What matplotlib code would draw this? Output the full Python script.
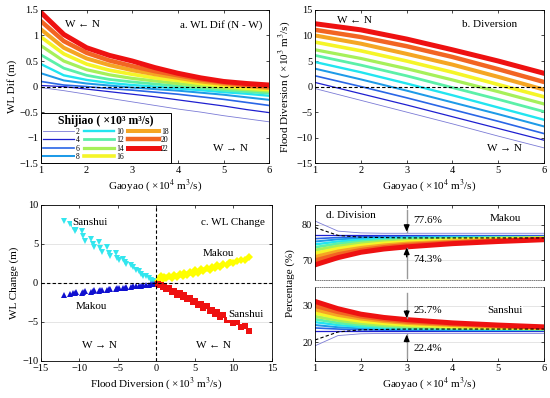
import numpy as np
import matplotlib
matplotlib.use('Agg')
import matplotlib.pyplot as plt
from matplotlib.ticker import FuncFormatter

plt.rcParams['font.family'] = ['Liberation Serif', 'DejaVu Serif']
plt.rcParams['mathtext.fontset'] = 'stix'
plt.rcParams['font.size'] = 7.5
plt.rcParams['axes.linewidth'] = 0.6

# --- data ---
shijiao = [2, 4, 6, 8, 10, 12, 14, 16, 18, 20, 22]
colors = ['#7B7BD6', '#1F1FD0', '#2A66E6', '#1E9BE8', '#22E5F0', '#5CF0A8',
          '#A6F05A', '#F5F528', '#F5A623', '#F26522', '#EE1111']
widths = [0.6, 0.9, 1.2, 1.45, 1.7, 2.0, 2.3, 2.6, 2.9, 3.2, 3.6]

# a. WL Dif (N - W), m
gx_a = [1, 1.5, 2, 2.5, 3, 3.5, 4, 4.5, 5, 5.5, 6]
wl_dif = [
    [-0.02, -0.08, -0.15, -0.23, -0.30, -0.37, -0.44, -0.50, -0.57, -0.63, -0.69],
    [0.02, 0.00, -0.05, -0.10, -0.15, -0.20, -0.26, -0.32, -0.38, -0.45, -0.51],
    [0.10, 0.03, 0.00, -0.04, -0.07, -0.11, -0.15, -0.20, -0.25, -0.31, -0.37],
    [0.26, 0.12, 0.06, 0.02, -0.02, -0.05, -0.08, -0.12, -0.16, -0.21, -0.26],
    [0.44, 0.22, 0.13, 0.07, 0.03, 0.00, -0.04, -0.07, -0.11, -0.14, -0.18],
    [0.62, 0.36, 0.22, 0.14, 0.09, 0.05, 0.01, -0.03, -0.07, -0.10, -0.13],
    [0.80, 0.50, 0.33, 0.23, 0.16, 0.11, 0.06, 0.01, -0.03, -0.06, -0.09],
    [0.97, 0.64, 0.44, 0.32, 0.24, 0.17, 0.12, 0.06, 0.01, -0.03, -0.06],
    [1.12, 0.76, 0.55, 0.42, 0.32, 0.24, 0.17, 0.10, 0.05, 0.01, -0.03],
    [1.28, 0.89, 0.66, 0.51, 0.40, 0.30, 0.22, 0.14, 0.08, 0.03, 0.00],
    [1.45, 1.02, 0.76, 0.61, 0.50, 0.37, 0.26, 0.17, 0.10, 0.06, 0.03],
]

# b. Diversion, x10^3 m3/s
gx_b = [1, 2, 3, 4, 5, 6]
diversion = [
    [-0.4, -2.7, -5.0, -7.3, -9.7, -12.0],
    [0.8, -1.4, -3.6, -5.9, -8.2, -10.5],
    [2.1, 0.0, -2.2, -4.5, -6.8, -9.2],
    [3.5, 1.4, -0.8, -3.1, -5.4, -7.8],
    [4.8, 2.8, 0.6, -1.7, -4.1, -6.5],
    [6.1, 4.2, 2.1, -0.2, -2.5, -4.9],
    [7.2, 5.5, 3.5, 1.3, -1.0, -3.4],
    [8.7, 7.0, 5.0, 2.8, 0.4, -2.0],
    [10.0, 8.4, 6.4, 4.3, 1.9, -0.6],
    [11.1, 9.7, 7.9, 5.8, 3.4, 0.9],
    [12.3, 11.1, 9.3, 7.2, 5.0, 2.6],
]

# c. WL change vs flood diversion
neg_div = [-12.0, -11.2, -10.8, -10.6, -10.4, -9.7, -9.5, -9.3, -8.5, -8.3, -8.1,
           -7.4, -7.3, -7.1, -6.4, -6.2, -6.0, -5.3, -5.1, -4.9, -4.3, -4.1, -3.9,
           -3.3, -3.0, -2.7, -2.3, -2.0, -1.7, -1.3, -1.0, -0.7, -0.4, -0.2]
sanshui_neg = [7.9, 7.5, 7.2, 6.7, 6.9, 6.6, 6.0, 5.4, 5.7, 5.0, 4.6,
               5.2, 4.5, 4.0, 4.6, 3.9, 3.5, 3.9, 3.2, 2.9, 3.1, 2.7, 2.4,
               2.3, 2.0, 1.6, 1.5, 1.2, 0.9, 0.9, 0.6, 0.4, 0.2, 0.1]
makou_neg = [-1.5, -1.4, -1.3, -1.3, -1.2, -1.25, -1.15, -1.05, -1.1, -1.0, -0.95,
             -1.0, -0.9, -0.85, -0.9, -0.8, -0.75, -0.8, -0.7, -0.65, -0.65, -0.6, -0.55,
             -0.5, -0.45, -0.4, -0.4, -0.35, -0.3, -0.25, -0.2, -0.15, -0.1, -0.05]
pos_div = [0.2, 0.4, 0.6, 0.8, 1.0, 1.3, 1.6, 2.0, 2.3, 2.7, 3.0, 3.4, 3.6, 4.0,
           4.3, 4.7, 5.0, 5.4, 5.8, 6.1, 6.5, 7.0, 7.2, 7.6, 7.9, 8.3, 8.7, 9.2,
           9.6, 10.0, 10.5, 11.0, 11.5, 12.0]
makou_pos = [0.2, 0.6, 0.9, 0.5, 0.8, 0.6, 0.9, 0.7, 1.0, 0.8, 1.1, 0.9, 1.3, 1.0,
             1.4, 1.2, 1.6, 1.3, 1.8, 1.5, 1.9, 1.7, 2.1, 1.9, 2.3, 2.1, 2.4, 2.3,
             2.7, 2.5, 2.8, 2.9, 3.0, 3.3]
sanshui_pos = [-0.1, -0.3, -0.2, -0.5, -0.4, -0.8, -0.7, -1.1, -1.0, -1.5, -1.3, -1.8,
               -1.6, -2.1, -1.9, -2.5, -2.3, -2.8, -2.7, -3.2, -3.0, -3.6, -3.4, -4.0,
               -3.7, -4.3, -4.1, -4.8, -4.5, -5.1, -5.0, -5.6, -5.5, -6.1]

# d. Division, %
gx_d = [1, 1.5, 2, 2.5, 3, 4, 5, 6]
makou_pct = [
    [81.0, 78.2, 77.7, 77.6, 77.6, 77.6, 77.6, 77.6],
    [77.0, 77.0, 77.0, 77.0, 77.0, 77.0, 77.0, 77.0],
    [76.1, 76.4, 76.6, 76.7, 76.7, 76.8, 76.8, 76.8],
    [75.3, 75.9, 76.2, 76.4, 76.5, 76.6, 76.6, 76.6],
    [74.5, 75.3, 75.8, 76.1, 76.3, 76.4, 76.5, 76.5],
    [73.7, 74.7, 75.3, 75.7, 76.0, 76.2, 76.3, 76.4],
    [72.9, 74.0, 74.8, 75.3, 75.6, 76.0, 76.2, 76.3],
    [72.0, 73.3, 74.2, 74.8, 75.2, 75.7, 76.0, 76.2],
    [71.0, 72.5, 73.5, 74.2, 74.7, 75.3, 75.7, 76.0],
    [70.0, 71.7, 72.9, 73.7, 74.3, 75.0, 75.5, 75.9],
    [68.8, 70.8, 72.3, 73.2, 73.8, 74.7, 75.3, 75.8],
]
sanshui_pct = [
    [19.0, 21.8, 22.3, 22.4, 22.4, 22.4, 22.4, 22.4],
    [23.0, 23.0, 23.0, 23.0, 23.0, 23.0, 23.0, 23.0],
    [23.9, 23.6, 23.4, 23.3, 23.3, 23.2, 23.2, 23.2],
    [24.7, 24.1, 23.8, 23.6, 23.5, 23.4, 23.4, 23.4],
    [25.5, 24.7, 24.2, 23.9, 23.7, 23.6, 23.5, 23.5],
    [26.3, 25.3, 24.7, 24.3, 24.0, 23.8, 23.7, 23.6],
    [27.1, 26.0, 25.2, 24.7, 24.4, 24.0, 23.8, 23.7],
    [28.0, 26.7, 25.8, 25.2, 24.8, 24.3, 24.0, 23.8],
    [29.0, 27.5, 26.5, 25.8, 25.3, 24.7, 24.3, 24.0],
    [30.0, 28.3, 27.1, 26.3, 25.7, 25.0, 24.5, 24.1],
    [31.2, 29.2, 27.7, 26.8, 26.2, 25.3, 24.7, 24.2],
]
dash_x = [1, 1.5, 2, 3, 6]
makou_ref = [79.2, 77.0, 76.5, 76.3, 76.3]
sanshui_ref = [20.6, 22.8, 23.4, 23.6, 23.6]

gaoyao_label = 'Gaoyao ( ×10$^4$ m$^3$/s)'
fmt = FuncFormatter(lambda v, p: ('%g' % v).replace('-', '\u2212'))


def style(ax):
    ax.tick_params(direction='in', top=True, right=True, length=2.5, width=0.5,
                   labelsize=7.5, pad=2)
    ax.yaxis.set_major_formatter(fmt)
    ax.xaxis.set_major_formatter(fmt)


fig = plt.figure(figsize=(5.5, 3.98), dpi=100)

# ---- a ----
ax_a = fig.add_axes([0.0745, 0.590, 0.415, 0.385])
for k in range(len(shijiao)):
    ax_a.plot(gx_a, wl_dif[k], color=colors[k], lw=widths[k], label=str(shijiao[k]))
ax_a.axhline(0, color='k', ls='--', lw=0.8, dashes=(3, 2))
ax_a.set_xlim(1, 6)
ax_a.set_ylim(-1.5, 1.5)
ax_a.set_yticks([-1.5, -1, -0.5, 0, 0.5, 1, 1.5])
style(ax_a)
ax_a.set_xlabel(gaoyao_label, fontsize=8, labelpad=2)
ax_a.set_ylabel('WL Dif (m)', fontsize=8, labelpad=2)
ax_a.text(1.9, 1.21, 'W \u2190 N', ha='center', va='center', fontsize=8)
ax_a.text(5.85, 1.21, 'a. WL Dif (N - W)', ha='right', va='center', fontsize=8)
ax_a.text(5.15, -1.22, 'W \u2192 N', ha='center', va='center', fontsize=8)
leg = ax_a.legend(ncol=3, loc='lower left', bbox_to_anchor=(0, 0), fontsize=5.5,
                  title='Shijiao ( ×10³ m³/s)', title_fontproperties={'weight': 'bold', 'size': 8.5},
                  handlelength=4.0, columnspacing=0.5, labelspacing=0.05, handletextpad=0.3,
                  borderpad=0.3, fancybox=False, framealpha=1, edgecolor='k', borderaxespad=0)
leg.get_frame().set_linewidth(0.7)

# ---- b ----
ax_b = fig.add_axes([0.573, 0.590, 0.416, 0.385])
for k in range(len(shijiao)):
    ax_b.plot(gx_b, diversion[k], color=colors[k], lw=widths[k])
ax_b.axhline(0, color='k', ls='--', lw=0.8, dashes=(3, 2))
ax_b.set_xlim(1, 6)
ax_b.set_ylim(-15, 15)
ax_b.set_yticks([-15, -10, -5, 0, 5, 10, 15])
style(ax_b)
ax_b.set_xlabel(gaoyao_label, fontsize=8, labelpad=2)
ax_b.set_ylabel('Flood Diversion ( ×10$^3$ m$^3$/s)', fontsize=8, labelpad=2)
ax_b.text(1.87, 12.9, 'W \u2190 N', ha='center', va='center', fontsize=8)
ax_b.text(4.82, 12.1, 'b. Diversion', ha='center', va='center', fontsize=8)
ax_b.text(5.13, -12.1, 'W \u2192 N', ha='center', va='center', fontsize=8)

# ---- c ----
ax_c = fig.add_axes([0.0745, 0.093, 0.420, 0.392])
ax_c.grid(axis='y', color='0.88', lw=0.6)
ax_c.set_axisbelow(True)
ax_c.plot(neg_div, sanshui_neg, 'v', color='#33E6EE', ms=4.5, mew=0)
ax_c.plot(neg_div, makou_neg, '^', color='#1010D0', ms=4.5, mew=0)
ax_c.plot(pos_div, makou_pos, 'D', color='#FFFF00', ms=3.8, mew=0)
ax_c.plot(pos_div, sanshui_pos, 's', color='#EE1111', ms=4.2, mew=0)
ax_c.axhline(0, color='k', lw=0.8, dashes=(3, 2))
ax_c.axvline(0, color='k', lw=0.8, dashes=(3, 2))
ax_c.set_xlim(-15, 15)
ax_c.set_ylim(-10, 10)
ax_c.set_xticks([-15, -10, -5, 0, 5, 10, 15])
ax_c.set_yticks([-10, -5, 0, 5, 10])
style(ax_c)
ax_c.set_xlabel('Flood Diversion ( ×10$^3$ m$^3$/s)', fontsize=8, labelpad=2)
ax_c.set_ylabel('WL Change (m)', fontsize=8, labelpad=2)
wbox = dict(facecolor='white', edgecolor='none', pad=0.5)
ax_c.text(-10.9, 7.8, 'Sanshui', ha='left', va='center', fontsize=8, bbox=wbox)
ax_c.text(9.9, 7.7, 'c. WL Change', ha='center', va='center', fontsize=8, bbox=wbox)
ax_c.text(8.1, 3.8, 'Makou', ha='center', va='center', fontsize=8, bbox=wbox)
ax_c.text(-8.4, -3.0, 'Makou', ha='center', va='center', fontsize=8, bbox=wbox)
ax_c.text(11.6, -4.1, 'Sanshui', ha='center', va='center', fontsize=8, bbox=wbox)
ax_c.text(-7.4, -8.0, 'W \u2192 N', ha='center', va='center', fontsize=8)
ax_c.text(7.4, -8.0, 'W \u2190 N', ha='center', va='center', fontsize=8)

# ---- d ----
ax_d1 = fig.add_axes([0.573, 0.296, 0.416, 0.189])
ax_d2 = fig.add_axes([0.573, 0.093, 0.416, 0.186])
for ax, data, ref in [(ax_d1, makou_pct, makou_ref), (ax_d2, sanshui_pct, sanshui_ref)]:
    ax.grid(axis='y', color='0.88', lw=0.6)
    ax.set_axisbelow(True)
    for k in range(len(shijiao)):
        ax.plot(gx_d, data[k], color=colors[k], lw=widths[k])
    ax.plot(dash_x, ref, color='k', lw=0.8, dashes=(3, 2))
    ax.set_xlim(1, 6)
    style(ax)
ax_d1.set_ylim(64.5, 85.5)
ax_d1.set_yticks([70, 80])
ax_d2.set_ylim(14.8, 35.2)
ax_d2.set_yticks([20, 30])
ax_d1.tick_params(labelbottom=False, bottom=False)
ax_d2.tick_params(top=False)
ax_d1.spines['bottom'].set_linestyle(':')
ax_d1.spines['bottom'].set_color('0.4')
ax_d2.spines['top'].set_linestyle(':')
ax_d2.spines['top'].set_color('0.4')
ax_d2.set_xlabel(gaoyao_label, fontsize=8, labelpad=2)
fig.text(0.527, 0.289, 'Percentage (%)', rotation=90, ha='center', va='center', fontsize=8)


def pct_arrow(ax, y0, y1):
    ax.plot([3, 3], [y0, y1], color='0.6', lw=1.0)
    ax.annotate('', xy=(3, y1), xytext=(3, y1 + (y0 - y1) * 0.3),
                arrowprops=dict(arrowstyle='-|>,head_length=0.5,head_width=0.22',
                                color='k', lw=1.0, shrinkA=0, shrinkB=0))


pct_arrow(ax_d1, 84.2, 78.0)
pct_arrow(ax_d1, 65.0, 73.6)
pct_arrow(ax_d2, 33.4, 26.6)
pct_arrow(ax_d2, 15.5, 22.1)
ax_d1.text(3.15, 81.1, '77.6%', ha='left', va='center', fontsize=8)
ax_d1.text(3.15, 70.4, '74.3%', ha='left', va='center', fontsize=8)
ax_d2.text(3.15, 28.6, '25.7%', ha='left', va='center', fontsize=8)
ax_d2.text(3.15, 18.2, '22.4%', ha='left', va='center', fontsize=8)
ax_d1.text(1.78, 82.6, 'd. Division', ha='center', va='center', fontsize=8, bbox=wbox)
ax_d1.text(5.15, 81.8, 'Makou', ha='center', va='center', fontsize=8, bbox=wbox)
ax_d2.text(5.15, 28.6, 'Sanshui', ha='center', va='center', fontsize=8, bbox=wbox)

fig.savefig('out.png', dpi=100)
